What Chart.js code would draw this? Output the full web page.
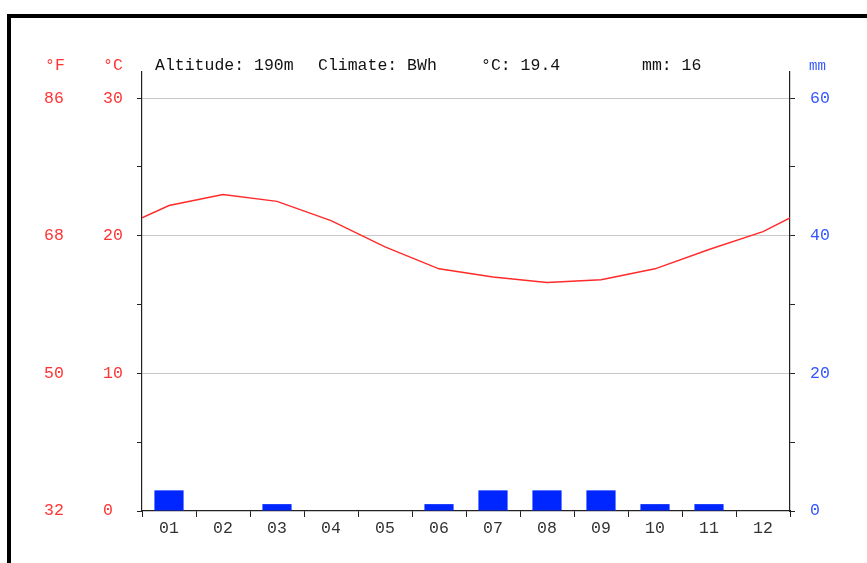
<!DOCTYPE html>
<html>
<head>
<meta charset="utf-8">
<script src="https://cdn.jsdelivr.net/npm/chart.js@4"></script>
<style>
  body { margin: 0; background: #fff; }
  #frame { position: absolute; left: 7px; top: 14px; width: 900px; height: 600px;
           border-top: 4px solid #000; border-left: 4px solid #000; }
  #wrap { position: absolute; left: 0; top: 0; width: 867px; height: 563px; }
</style>
</head>
<body>
<div id="frame"></div>
<div id="wrap"><canvas id="myChart" width="867" height="563"></canvas></div>
<script>
// ----- donnees -----
var mois = ['01', '02', '03', '04', '05', '06', '07', '08', '09', '10', '11', '12'];
var temperatures = [22.2, 23.0, 22.5, 21.1, 19.2, 17.6, 17.0, 16.6, 16.8, 17.6, 19.0, 20.3];
var tempBord = 21.3;   // valeur lue aux deux bords (dec -> jan)
var precipitations = [3, 0, 1, 0, 0, 1, 3, 3, 3, 1, 1, 0];
var ticksC = [0, 5, 10, 15, 20, 25, 30];
var labelsC = [0, 10, 20, 30];
var ticksF = [32, 50, 68, 86];
var ticksMm = [0, 10, 20, 30, 40, 50, 60];
var labelsMm = [0, 20, 40, 60];

var rouge = '#ff3333';
var bleu = '#3355ff';
var police = "'Liberation Mono', monospace";
var maxC = 31.9;

// points de la courbe : bord gauche, mois, bord droit
var pointsTemp = [{x: 0.5, y: tempBord}];
temperatures.forEach((t, i) => { pointsTemp.push({x: i + 1, y: t}); });
pointsTemp.push({x: 12.5, y: tempBord});

const entete = {
    id: 'entete',
    afterDraw(chart) {
        const ctx = chart.ctx;
        ctx.save();
        ctx.textBaseline = 'middle';
        ctx.font = '16.5px ' + police;
        ctx.fillStyle = rouge;
        ctx.fillText('°F', 45, 66);
        ctx.fillText('°C', 103, 66);
        ctx.fillStyle = '#111';
        ctx.fillText('Altitude: 190m', 155, 66);
        ctx.fillText('Climate: BWh', 318, 66);
        ctx.fillText('°C: 19.4', 481, 66);
        ctx.fillText('mm: 16', 642, 66);
        ctx.font = '14px ' + police;
        ctx.fillStyle = bleu;
        ctx.fillText('mm', 809, 66);
        ctx.restore();
    }
};

const config = {
    type: 'bar',
    data: {
        labels: mois,
        datasets: [{
            type: 'line',
            data: pointsTemp,
            xAxisID: 'x2',
            yAxisID: 'y',
            borderColor: '#ff2a2a',
            borderWidth: 1.4,
            pointRadius: 0,
            tension: 0
        }, {
            type: 'bar',
            data: precipitations,
            xAxisID: 'x',
            yAxisID: 'y2',
            backgroundColor: '#0026ff',
            borderWidth: 0,
            grouped: false,
            barPercentage: 0.54,
            categoryPercentage: 1
        }]
    },
    options: {
        responsive: false,
        animation: false,
        layout: { padding: { left: 44, top: 72, right: 0, bottom: 0 } },
        plugins: { legend: { display: false }, tooltip: { enabled: false } },
        scales: {
            x: {
                type: 'category',
                offset: true,
                afterFit: s => { s.height = 52; },
                grid: { offset: true, color: 'rgba(0,0,0,0)', tickColor: '#222', tickLength: 6 },
                border: { color: '#222', width: 1.2 },
                ticks: { color: '#333', padding: 2, font: { family: police, size: 16.5 } }
            },
            x2: {
                type: 'linear',
                display: false,
                offset: false,
                min: 0.5,
                max: 12.5
            },
            yF: {
                position: 'left',
                weight: 1,
                min: 32,
                max: maxC * 1.8 + 32,
                afterBuildTicks: s => { s.ticks = ticksF.map(v => ({value: v})); },
                afterFit: s => { s.width = 59; },
                grid: { display: false },
                border: { display: false },
                ticks: { color: rouge, crossAlign: 'far', font: { family: police, size: 16.5 } }
            },
            y: {
                position: 'left',
                weight: 0,
                min: 0,
                max: maxC,
                afterBuildTicks: s => { s.ticks = ticksC.map(v => ({value: v})); },
                afterFit: s => { s.width = 39; },
                grid: {
                    color: c => (c.tick && c.tick.value % 10 === 0 && c.tick.value !== 0) ? '#c8c8c8' : 'rgba(0,0,0,0)',
                    tickColor: '#222',
                    tickLength: 5
                },
                border: { color: '#222', width: 1.2 },
                ticks: {
                    color: rouge,
                    crossAlign: 'far',
                    font: { family: police, size: 16.5 },
                    callback: v => labelsC.includes(v) ? String(v) : ''
                }
            },
            y2: {
                position: 'right',
                min: 0,
                max: maxC * 2,
                afterBuildTicks: s => { s.ticks = ticksMm.map(v => ({value: v})); },
                afterFit: s => { s.width = 77; },
                grid: { drawOnChartArea: false, tickColor: '#222', tickLength: 5 },
                border: { color: '#222', width: 1.2 },
                ticks: {
                    color: bleu,
                    padding: 15,
                    font: { family: police, size: 16.5 },
                    callback: v => labelsMm.includes(v) ? String(v) : ''
                }
            }
        }
    },
    plugins: [entete]
};

const myChart = new Chart(document.getElementById('myChart').getContext('2d'), config);
</script>
</body>
</html>
